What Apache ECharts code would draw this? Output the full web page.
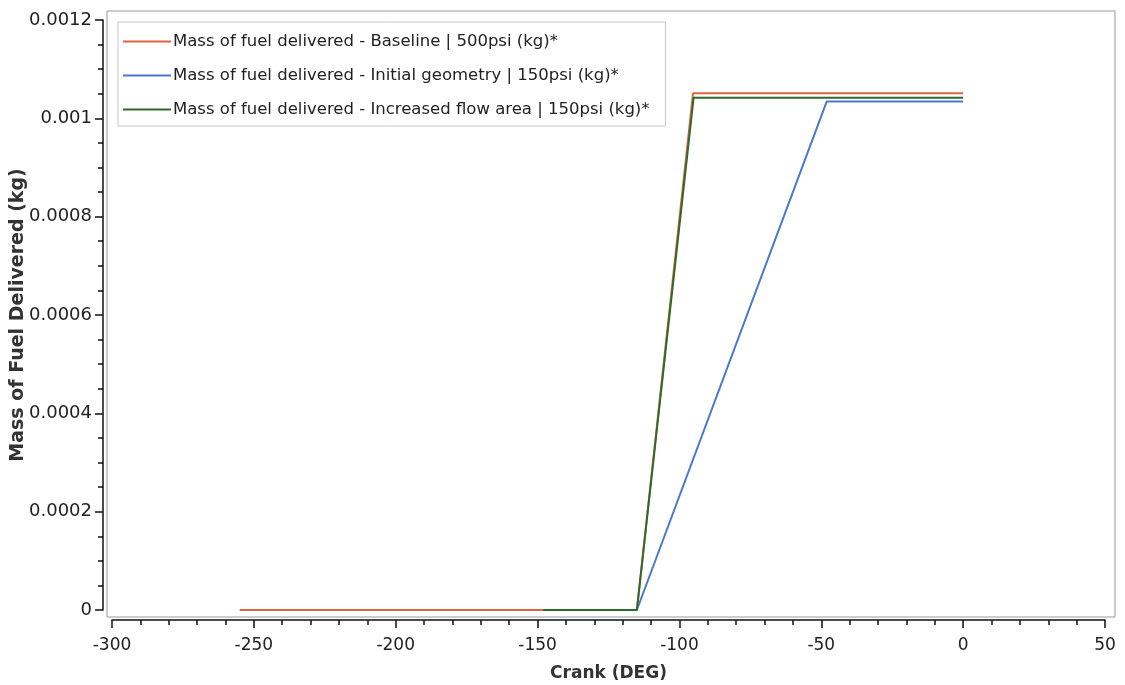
<!DOCTYPE html>
<html>
<head>
<meta charset="utf-8">
<script src="https://cdn.jsdelivr.net/npm/echarts@6/dist/echarts.min.js"></script>
<style>html,body{margin:0;padding:0;background:#fff;}#c{width:1125px;height:685px;}</style>
</head>
<body>
<div id="c"></div>
<script>
const seriesNames = [
  'Mass of fuel delivered - Baseline | 500psi (kg)*',
  'Mass of fuel delivered - Initial geometry | 150psi (kg)*',
  'Mass of fuel delivered - Increased flow area | 150psi (kg)*'
];
const baselineX = [-255, -115, -95.2, 0];
const baselineY = [0, 0, 0.001051, 0.001051];
const initialX = [-148, -115, -48.1, 0];
const initialY = [0, 0, 0.001034, 0.001034];
const increasedX = [-148, -115, -95, 0];
const increasedY = [0, 0, 0.001042, 0.001042];
const xTicks = [-300, -250, -200, -150, -100, -50, 0, 50];
const yTicks = [0, 0.0002, 0.0004, 0.0006, 0.0008, 0.001, 0.0012];

const colors = ['#E0643F', '#4A78CF', '#2C6B2C'];
const font = 'DejaVu Sans';

function pairs(xs, ys) { return xs.map((x, i) => [x, ys[i]]); }

const chart = echarts.init(document.getElementById('c'), null, {renderer: 'canvas'});
chart.setOption({
  animation: false,
  backgroundColor: '#fff',
  textStyle: {fontFamily: font},
  grid: [
    {left: 107, right: 10, top: 11, bottom: 68, show: true, borderColor: '#9a9a9a', borderWidth: 1,
      backgroundColor: 'transparent', containLabel: false, outerBoundsMode: 'none'},
    {left: 112, right: 20, top: 20, bottom: 75, show: false, containLabel: false, outerBoundsMode: 'none'}
  ],
  legend: {
    orient: 'vertical',
    left: 118, top: 22,
    padding: [11, 16, 8, 5],
    backgroundColor: '#fff',
    borderColor: '#c8c8c8',
    borderWidth: 1,
    itemWidth: 48,
    itemHeight: 16,
    itemGap: 17,
    icon: 'path://M0,0 L48,0 L48,2 L0,2 Z',
    textStyle: {fontFamily: font, fontSize: 16.5, color: '#222', padding: [0, 0, 0, -3]},
    data: seriesNames.map((n, i) => ({name: n, itemStyle: {color: colors[i]}}))
  },
  xAxis: [
    {gridIndex: 0, type: 'value', min: 0, max: 1, show: false},
    {
      gridIndex: 1, type: 'value', min: xTicks[0], max: xTicks[xTicks.length - 1], interval: 50,
      position: 'bottom', offset: 10,
      name: 'Crank (DEG)', nameLocation: 'middle', nameGap: 45, nameMoveOverlap: false,
      nameTextStyle: {fontFamily: font, fontWeight: 'bold', fontSize: 17, color: '#333'},
      axisLine: {show: true, onZero: false, lineStyle: {color: '#111', width: 1.5}},
      axisTick: {show: true, inside: false, length: 8, lineStyle: {color: '#111', width: 1.5}},
      minorTick: {show: true, splitNumber: 5, length: 5, lineStyle: {color: '#111', width: 1.5}},
      axisLabel: {fontFamily: font, fontSize: 17, color: '#222', margin: 17},
      splitLine: {show: false}
    }
  ],
  yAxis: [
    {gridIndex: 0, type: 'value', min: 0, max: 1, show: false},
    {
      gridIndex: 1, type: 'value', min: yTicks[0], max: yTicks[yTicks.length - 1], interval: 0.0002,
      position: 'left', offset: 9,
      name: 'Mass of Fuel Delivered (kg)', nameLocation: 'middle', nameGap: 75, nameRotate: 90,
      nameMoveOverlap: false,
      nameTextStyle: {fontFamily: font, fontWeight: 'bold', fontSize: 19, color: '#333'},
      axisLine: {show: true, onZero: false, lineStyle: {color: '#111', width: 1.5}},
      axisTick: {show: true, inside: false, length: 8, lineStyle: {color: '#111', width: 1.5}},
      minorTick: {show: true, splitNumber: 4, length: 5, lineStyle: {color: '#111', width: 1.5}},
      axisLabel: {fontFamily: font, fontSize: 18, color: '#222', margin: 11,
        formatter: v => v === 0 ? '0' : String(+v.toFixed(4))},
      splitLine: {show: false}
    }
  ],
  series: [
    {name: seriesNames[1], type: 'line', xAxisIndex: 1, yAxisIndex: 1, symbol: 'none', color: colors[1],
      lineStyle: {width: 2, color: colors[1]}, data: pairs(initialX, initialY), z: 2},
    {name: seriesNames[0], type: 'line', xAxisIndex: 1, yAxisIndex: 1, symbol: 'none', color: colors[0],
      lineStyle: {width: 2, color: colors[0]}, data: pairs(baselineX, baselineY), z: 3},
    {name: seriesNames[2], type: 'line', xAxisIndex: 1, yAxisIndex: 1, symbol: 'none', color: colors[2],
      lineStyle: {width: 2, color: colors[2]}, data: pairs(increasedX, increasedY), z: 4}
  ]
});
</script>
</body>
</html>
